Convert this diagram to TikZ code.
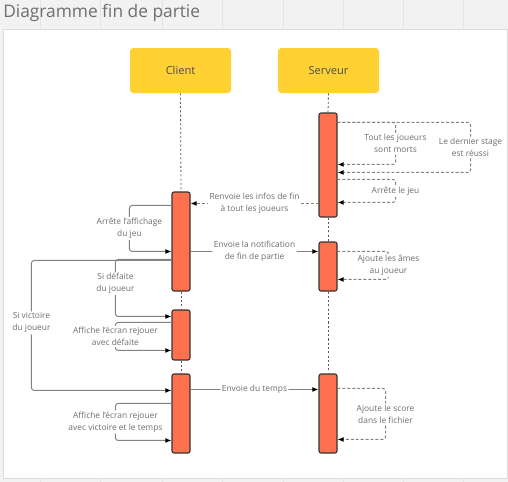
\documentclass[tikz,border=0pt]{standalone}
\usepackage{fontspec}
\setmainfont{Open Sans}
\usetikzlibrary{arrows.meta,calc,fit}
\definecolor{bgc}{RGB}{242,242,242}
\definecolor{gridc}{RGB}{228,228,228}
\definecolor{panelb}{RGB}{220,220,220}
\definecolor{yel}{RGB}{255,209,51}
\definecolor{coral}{RGB}{255,112,79}
\definecolor{barb}{RGB}{51,51,51}
\definecolor{txt}{RGB}{110,110,110}
\definecolor{lnc}{RGB}{130,130,130}
\definecolor{lifec}{RGB}{90,90,90}
\begin{document}
\begin{tikzpicture}[x=0.75pt,y=-0.75pt,
  actor/.style={fill=yel,rounded corners=2.5pt,minimum width=75.75pt,minimum height=33.75pt,inner sep=0pt,text=txt!70!black,font=\fontsize{8.3}{10}\selectfont},
  bar/.style={fill=coral,draw=barb,line width=0.8pt,rounded corners=1.5pt,inner sep=0pt},
  life/.style={draw=lifec,line width=0.6pt,dash pattern=on 1.6pt off 1.6pt},
  lbl/.style={fill=white,inner sep=1pt,text=txt,align=center,font=\fontsize{6.3}{9}\selectfont},
  msg/.style={draw=lnc,line width=0.75pt,rounded corners=2pt,-{Latex[length=4.5pt,width=3.6pt,color=black]}},
  ret/.style={msg,dash pattern=on 2.2pt off 1.5pt}
]
\useasboundingbox (0,0) rectangle (508,482);
% background
\fill[bgc] (0,0) rectangle (508,482);
\foreach \gx in {40,100,162,222,283,343,403,463}
  \draw[gridc,line width=0.75pt] (\gx,0) -- (\gx,482);
\node[anchor=base west,inner sep=0pt,text=txt,font=\fontsize{13}{15}\selectfont] (title) at (3,17.3) {Diagramme fin de partie};
\filldraw[fill=white,draw=panelb,line width=0.75pt] (3,29.5) rectangle (507,478);
% actors
\node[actor] (client) at (180.5,70.5) {Client};
\node[actor] (serveur) at (328.5,70.5) {Serveur};
% activation bars
\node[bar,fit={(319,113)(337,217)}] (sb1) {};
\node[bar,fit={(172,192)(190,291)}] (cb1) {};
\node[bar,fit={(319,242)(337,291)}] (sb2) {};
\node[bar,fit={(172,310)(190,360)}] (cb2) {};
\node[bar,fit={(172,374)(190,453)}] (cb3) {};
\node[bar,fit={(319,374)(337,453)}] (sb3) {};
% lifelines
\draw[life] (client.south) -- (cb1.north);
\draw[life] (cb1.south) -- (cb2.north);
\draw[life] (cb2.south) -- (cb3.north);
\draw[life] (serveur.south) -- (sb1.north);
\draw[life] (sb1.south) -- (sb2.north);
\draw[life] (sb2.south) -- (sb3.north);
% server self messages
\draw[ret] ($(sb1.north east)+(0,10)$) -- ++(133,0) -- node[lbl]{Le dernier stage\\est réussi} ++(0,50) -- ($(sb1.north east)+(0,60)$);
\draw[ret] ($(sb1.north east)+(0,10)$) -- ++(58,0) -- node[lbl]{Tout les joueurs\\sont morts} ++(0,42) -- ($(sb1.north east)+(0,52)$);
\draw[ret] ($(sb1.north east)+(0,67)$) -- ++(58,0) -- node[lbl]{Arrête le jeu} ++(0,23) -- ($(sb1.north east)+(0,90)$);
% renvoie
\draw[ret] ($(sb1.north west)+(0,91)$) -- node[lbl]{Renvoie les infos de fin\\à tout les joueurs} ($(cb1.north east)+(0,12)$);
% client self: arrête affichage
\draw[msg] ($(cb1.north west)+(0,14)$) -- ++(-42,0) -- node[lbl]{Arrête l'affichage\\du jeu} ++(0,46) -- ($(cb1.north west)+(0,60)$);
% envoie notification
\draw[msg] ($(cb1.north east)+(0,60)$) -- node[lbl]{Envoie la notification\\de fin de partie} ($(sb2.north west)+(0,10)$);
% ajoute âmes
\draw[ret] ($(sb2.north east)+(0,10)$) -- ++(51,0) -- node[lbl]{Ajoute les âmes\\au joueur} ++(0,28) -- ($(sb2.north east)+(0,38)$);
% si victoire
\draw[msg] ($(cb1.north west)+(0,69)$) -- ++(-140,0) -- node[lbl,pos=0.48]{Si victoire\\du joueur} ++(0,130) -- ($(cb3.north west)+(0,17)$);
% si défaite
\draw[msg] ($(cb1.north west)+(0,68)$) -- ++(-56,0) -- node[lbl,pos=0.42]{Si défaite\\du joueur} ++(0,57) -- ($(cb2.north west)+(0,7)$);
% affiche défaite
\draw[msg] ($(cb2.north west)+(0,13)$) -- ++(-56,0) -- node[lbl]{Affiche l'écran rejouer\\avec défaite} ++(0,28) -- ($(cb2.north west)+(0,41)$);
% envoie du temps
\draw[msg] ($(cb3.north east)+(0,16)$) -- node[lbl]{Envoie du temps} ($(sb3.north west)+(0,16)$);
% ajoute score
\draw[ret] ($(sb3.north east)+(0,15)$) -- ++(48,0) -- node[lbl]{Ajoute le score\\dans le fichier} ++(0,51) -- ($(sb3.north east)+(0,66)$);
% affiche victoire
\draw[msg] ($(cb3.north west)+(0,30)$) -- ++(-56,0) -- node[lbl]{Affiche l'écran rejouer\\avec victoire et le temps} ++(0,37) -- ($(cb3.north west)+(0,67)$);
\end{tikzpicture}
\end{document}
